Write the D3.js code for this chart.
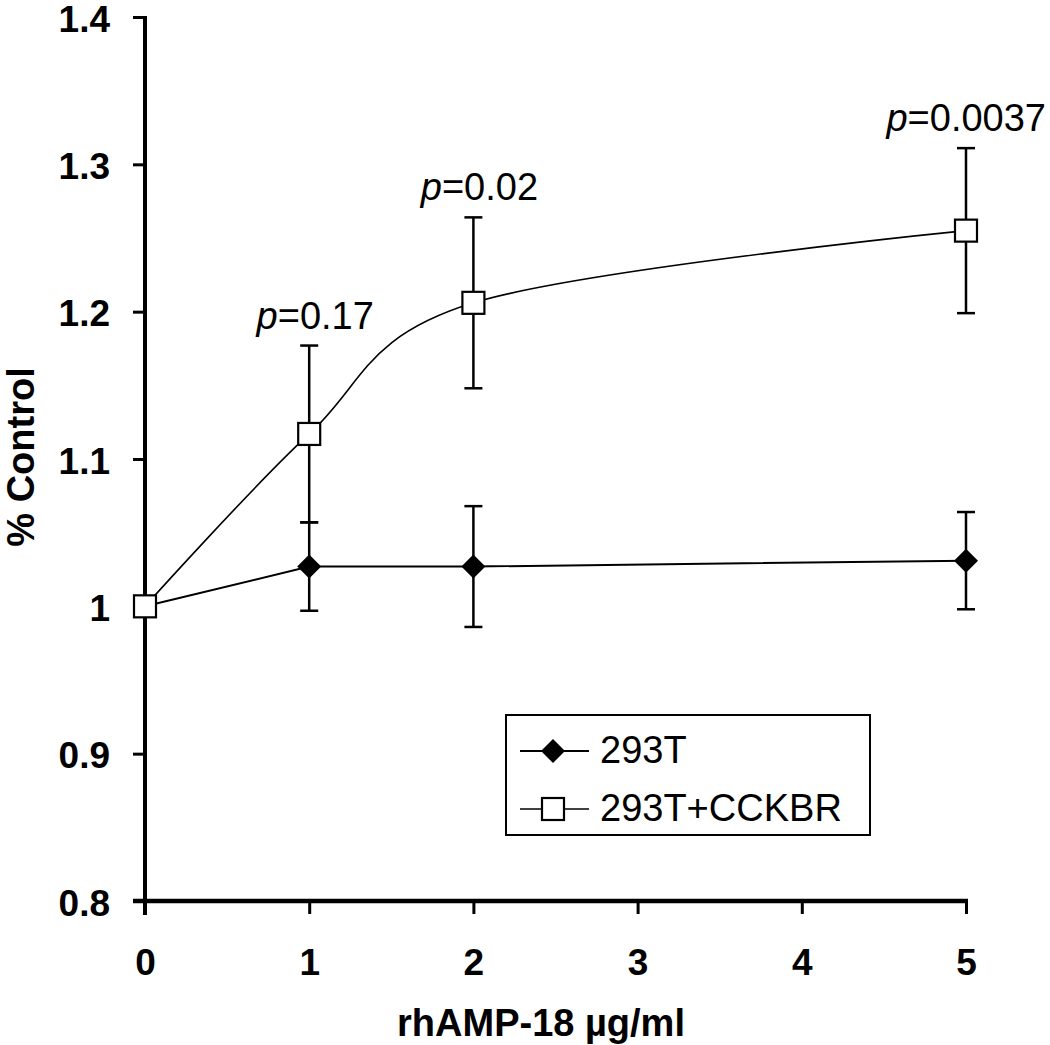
<!DOCTYPE html>
<html>
<head>
<meta charset="utf-8">
<script src="https://cdn.jsdelivr.net/npm/d3@7"></script>
<style>
  html, body { margin: 0; padding: 0; background: #fff; }
  svg { display: block; }
</style>
</head>
<body>
<svg id="chart" width="1050" height="1045"></svg>
<script>
// ---- data ----
const doses = [0, 1, 2, 5];
const xTicks = [0, 1, 2, 3, 4, 5];
const yTicks = [0.8, 0.9, 1.0, 1.1, 1.2, 1.3, 1.4];
const yTickLabels = ["0.8", "0.9", "1", "1.1", "1.2", "1.3", "1.4"];
const seriesNames = ["293T", "293T+CCKBR"];
const mean293T = [1.000, 1.027, 1.027, 1.031];
const err293T = [0, 0.030, 0.041, 0.033];
const meanCCKBR = [1.000, 1.117, 1.206, 1.255];
const errCCKBR = [0, 0.060, 0.058, 0.056];
const pDoses = [1, 2, 5];
const pValues = ["0.17", "0.02", "0.0037"];
const xTitle = "rhAMP-18 \u00b5g/ml";
const yTitle = "% Control";

// ---- layout ----
const svg = d3.select("#chart");
const x = d3.scaleLinear().domain([0, 5]).range([145, 966]);
const y = d3.scaleLinear().domain([0.8, 1.4]).range([901, 17]);
const FONT = "Liberation Sans, Arial, Helvetica, sans-serif";

// axes
const yAxis = d3.axisLeft(y).tickValues(yTicks).tickSize(12).tickSizeOuter(0)
  .tickFormat((d, i) => yTickLabels[i]);
const gy = svg.append("g").attr("transform", `translate(${x(0)},0)`).call(yAxis);
gy.select(".domain").attr("stroke", "#000").attr("stroke-width", 4)
  .attr("d", `M0,${y(1.4) - 1}V${y(0.8) + 14}`);
gy.selectAll(".tick line").attr("stroke", "#000").attr("stroke-width", 3);
gy.selectAll(".tick text").attr("x", -35).attr("dy", "0.38em")
  .attr("font-family", FONT).attr("font-weight", "bold").attr("font-size", 37)
  .attr("fill", "#000");

const xAxis = d3.axisBottom(x).tickValues(xTicks).tickSize(13).tickSizeOuter(0)
  .tickFormat(d3.format("d"));
const gx = svg.append("g").attr("transform", `translate(0,${y(0.8)})`).call(xAxis);
gx.select(".domain").attr("stroke", "#000").attr("stroke-width", 4.5)
  .attr("d", `M${x(0) - 12},0H${x(5) + 2}`);
gx.selectAll(".tick line").attr("stroke", "#000").attr("stroke-width", 3);
gx.selectAll(".tick text").attr("y", 0).attr("dy", 74)
  .attr("font-family", FONT).attr("font-weight", "bold").attr("font-size", 37)
  .attr("fill", "#000");

// titles
svg.append("text").attr("x", 541).attr("y", 1036).attr("text-anchor", "middle")
  .attr("font-family", FONT).attr("font-weight", "bold").attr("font-size", 38)
  .text(xTitle);
svg.append("text").attr("transform", "translate(34,457) rotate(-90)")
  .attr("text-anchor", "middle")
  .attr("font-family", FONT).attr("font-weight", "bold").attr("font-size", 38)
  .text(yTitle);

// series
const s293 = doses.map((d, i) => ({ x: d, v: mean293T[i], e: err293T[i] }));
const sCCK = doses.map((d, i) => ({ x: d, v: meanCCKBR[i], e: errCCKBR[i] }));

function errorBars(data) {
  const g = svg.append("g").attr("stroke", "#000").attr("stroke-width", 2.5).attr("fill", "none");
  data.filter(d => d.e > 0).forEach(d => {
    const cx = x(d.x), t = y(d.v + d.e), b = y(d.v - d.e);
    g.append("line").attr("x1", cx).attr("x2", cx).attr("y1", t).attr("y2", b);
    g.append("line").attr("x1", cx - 9).attr("x2", cx + 9).attr("y1", t).attr("y2", t);
    g.append("line").attr("x1", cx - 9).attr("x2", cx + 9).attr("y1", b).attr("y2", b);
  });
}
errorBars(s293);
errorBars(sCCK);

const line293 = d3.line().x(d => x(d.x)).y(d => y(d.v)).curve(d3.curveLinear);
const lineCCK = d3.line().x(d => x(d.x)).y(d => y(d.v)).curve(d3.curveCardinal.tension(0));
svg.append("path").attr("d", line293(s293)).attr("fill", "none").attr("stroke", "#000").attr("stroke-width", 2);
svg.append("path").attr("d", lineCCK(sCCK)).attr("fill", "none").attr("stroke", "#000").attr("stroke-width", 1.6);

const diamond = "M0,-12L12,0L0,12L-12,0Z";
svg.append("g").selectAll("path").data(s293).join("path")
  .attr("transform", d => `translate(${x(d.x)},${y(d.v)})`)
  .attr("d", diamond).attr("fill", "#000");
svg.append("g").selectAll("rect").data(sCCK).join("rect")
  .attr("x", d => x(d.x) - 11).attr("y", d => y(d.v) - 11)
  .attr("width", 22).attr("height", 22)
  .attr("fill", "#fff").attr("stroke", "#000").attr("stroke-width", 2.2);

// p-value annotations
pDoses.forEach((d, i) => {
  const k = doses.indexOf(d);
  const top = y(meanCCKBR[k] + errCCKBR[k]);
  const t = svg.append("text").attr("x", x(d) + 6).attr("y", top - 17)
    .attr("text-anchor", "middle").attr("font-family", FONT).attr("font-size", 38);
  t.append("tspan").attr("font-style", "italic").text("p");
  t.append("tspan").text("=" + pValues[i]);
  const bb = t.node().getBBox();
  const over = bb.x + bb.width - 1046;
  if (over > 0) t.attr("x", x(d) + 6 - over);
});

// legend
const lg = svg.append("g");
lg.append("rect").attr("x", 506).attr("y", 715).attr("width", 364).attr("height", 120)
  .attr("fill", "#fff").attr("stroke", "#000").attr("stroke-width", 2);
const rows = [{ name: seriesNames[0], yy: 751 }, { name: seriesNames[1], yy: 809 }];
rows.forEach((r, i) => {
  lg.append("line").attr("x1", 520).attr("x2", 589).attr("y1", r.yy).attr("y2", r.yy)
    .attr("stroke", "#000").attr("stroke-width", i === 0 ? 2 : 1.6);
  if (i === 0) {
    lg.append("path").attr("transform", `translate(553,${r.yy})`).attr("d", diamond).attr("fill", "#000");
  } else {
    lg.append("rect").attr("x", 542).attr("y", r.yy - 11).attr("width", 22).attr("height", 22)
      .attr("fill", "#fff").attr("stroke", "#000").attr("stroke-width", 2.2);
  }
  lg.append("text").attr("x", 600).attr("y", r.yy + 12).attr("font-family", FONT)
    .attr("font-size", 38).text(r.name);
});
</script>
</body>
</html>
